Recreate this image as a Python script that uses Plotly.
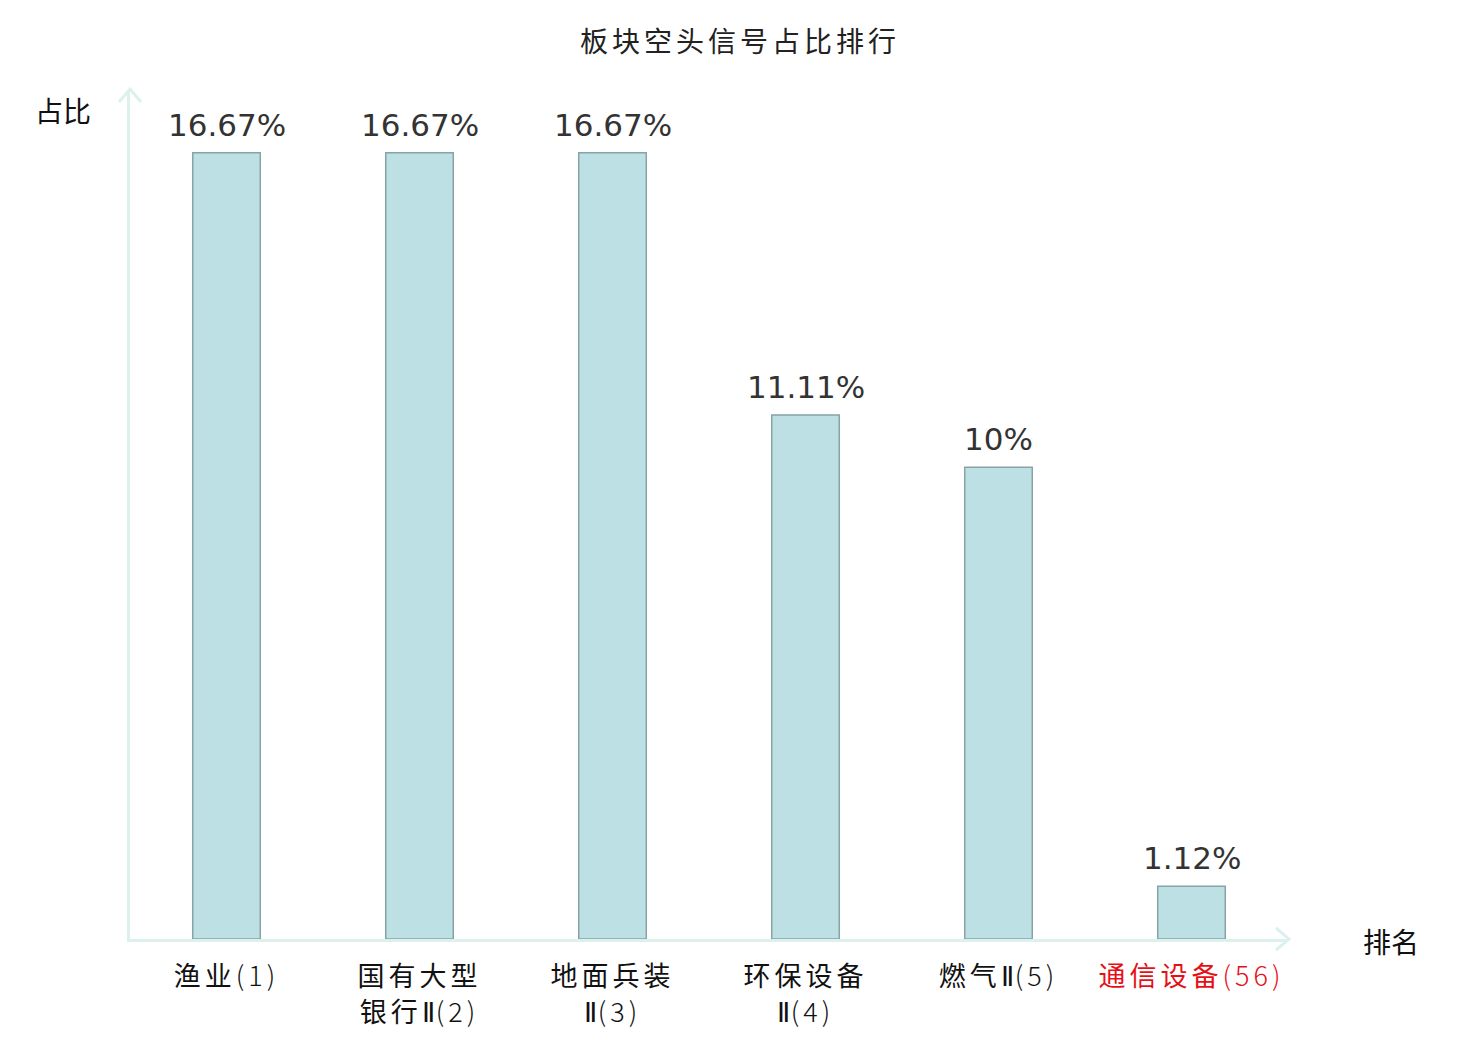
import plotly.graph_objects as go

# data
sectors = ["渔业(1)", "国有大型<br>银行Ⅱ(2)", "地面兵装<br>Ⅱ(3)", "环保设备<br>Ⅱ(4)", "燃气Ⅱ(5)", "通信设备(56)"]
shares = [16.67, 16.67, 16.67, 11.11, 10, 1.12]
share_labels = ["16.67%", "16.67%", "16.67%", "11.11%", "10%", "1.12%"]
highlight = "通信设备(56)"

axis_color = "#dcf1ee"
cjk = "Noto Sans CJK SC"

# highlighted sector gets a red tick label; rank numbers and roman numerals in a light face
tick_text = []
for s in sectors:
    color = "#e60f17" if s == highlight else "#111111"
    s = s.replace("Ⅱ", '<span style="font-family:Noto Sans;font-weight:300;letter-spacing:1px">Ⅱ</span>')
    s = s.replace("(", '<span style="font-weight:300">(').replace(")", ")</span>")
    tick_text.append('<span style="letter-spacing:4px;fill:%s">%s</span>' % (color, s))

x_idx = list(range(len(sectors)))

fig = go.Figure()
fig.add_trace(go.Bar(
    x=x_idx,
    y=shares,
    width=0.35,
    marker=dict(color="#bce0e3", line=dict(color="#87a3a5", width=1.5)),
    cliponaxis=False,
    hoverinfo="skip",
))

# value labels above the bars
for xi, v, lab in zip(x_idx, shares, share_labels):
    fig.add_annotation(x=xi, y=v, text=lab, showarrow=False, xanchor="center", yanchor="bottom",
                       yshift=8, font=dict(family="DejaVu Sans", size=31, color="#333333"))

# the page adds an 8px body margin, so the figure is 16px smaller than the window
fig.update_layout(
    width=1464, height=1024,
    margin=dict(l=122, r=184, t=82, b=93),
    paper_bgcolor="white", plot_bgcolor="white",
    showlegend=False,
    title=dict(text='<span style="letter-spacing:4px">板块空头信号占比排行</span>',
               x=0.5, xanchor="center", y=0.967, yanchor="middle",
               font=dict(family=cjk, size=28, color="#222222")),
    xaxis=dict(
        tickmode="array", tickvals=x_idx, ticktext=tick_text,
        range=[-0.5, len(sectors) - 0.5],
        showline=True, linecolor=axis_color, linewidth=3,
        showgrid=False, zeroline=False, ticks="", automargin=False,
        ticklabelstandoff=12,
        tickfont=dict(family=cjk, size=27, color="#111111"),
    ),
    yaxis=dict(
        range=[0, 18], showline=True, linecolor=axis_color, linewidth=3,
        showgrid=False, zeroline=False, showticklabels=False, ticks="", automargin=False,
    ),
)

# arrow heads at the ends of both axes
fig.add_shape(type="path", xref="paper", yref="paper", xsizemode="pixel", ysizemode="pixel",
              xanchor=1, yanchor=0, path="M -12,11 L 1,0 L -12,-11",
              line=dict(color=axis_color, width=3))
fig.add_shape(type="path", xref="paper", yref="paper", xsizemode="pixel", ysizemode="pixel",
              xanchor=0, yanchor=1, path="M -11,-12 L 0,1 L 11,-12",
              line=dict(color=axis_color, width=3))

fig.add_annotation(text="占比", xref="paper", yref="paper", x=-0.058, y=0.976,
                   xanchor="center", yanchor="middle",
                   showarrow=False, font=dict(family=cjk, size=28, color="#111111"))
fig.add_annotation(text="排名", xref="paper", yref="paper", x=1.089, y=-0.002,
                   xanchor="center", yanchor="middle",
                   showarrow=False, font=dict(family=cjk, size=28, color="#111111"))

fig.write_html("out.html")
